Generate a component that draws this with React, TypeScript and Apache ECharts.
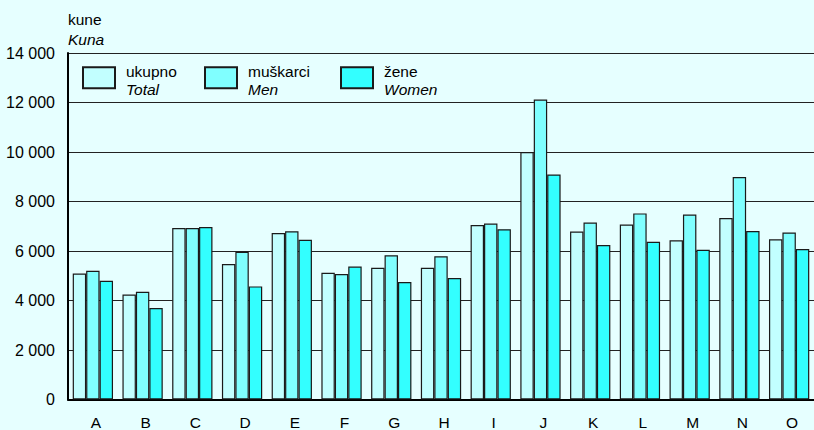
import React, { useEffect, useRef } from "react";
import * as echarts from "echarts";

const categories = ["A", "B", "C", "D", "E", "F", "G", "H", "I", "J", "K", "L", "M", "N", "O"];
const totalValues = [5090, 4240, 6930, 5470, 6730, 5120, 5320, 5320, 7050, 10000, 6790, 7070, 6430, 7330, 6470];
const menValues = [5200, 4350, 6930, 5970, 6800, 5070, 5830, 5790, 7110, 12120, 7150, 7520, 7470, 8990, 6750];
const womenValues = [4800, 3700, 6970, 4570, 6450, 5370, 4750, 4910, 6880, 9090, 6240, 6370, 6050, 6810, 6080];
const seriesNames = ["ukupno", "muškarci", "žene"];
const seriesNamesEn = ["Total", "Men", "Women"];
const yTicks = { min: 0, max: 14000, interval: 2000 };

const FONT = "'Liberation Sans', Arial, sans-serif";
const FS = 15.5;
const colors = ["#C2FFFF", "#80FFFF", "#33FFFF"];

function fmt(v: number): string {
  if (v >= 1000) {
    return `${Math.floor(v / 1000)} ${String(v % 1000).padStart(3, "0")}`;
  }
  return String(v);
}

export default function App() {
  const ref = useRef<HTMLDivElement>(null);
  useEffect(() => {
    document.body.style.margin = "0";
    const chart = echarts.init(ref.current!, null, { renderer: "svg" });
    const legendLefts = [82, 204, 340];
    const seriesData = [totalValues, menValues, womenValues];
    chart.setOption({
      animation: false,
      backgroundColor: "#E6FFFF",
      textStyle: { fontFamily: FONT },
      title: {
        left: 68,
        top: 9,
        padding: 0,
        text: "{a|kune}\n{b|Kuna}",
        textStyle: {
          fontWeight: "normal",
          rich: {
            a: { fontFamily: FONT, fontSize: FS, fontWeight: "normal", color: "#000", lineHeight: 20 },
            b: { fontFamily: FONT, fontSize: FS, fontWeight: "normal", color: "#000", fontStyle: "italic", lineHeight: 20 },
          },
        },
      },
      legend: seriesNames.map((n, i) => ({
        data: [n],
        left: legendLefts[i],
        top: 63.5,
        padding: 0,
        icon: "rect",
        itemWidth: 32,
        itemHeight: 21,
        selectedMode: false,
        formatter: (name: string) => `{a|${name}}\n{b|${seriesNamesEn[seriesNames.indexOf(name)]}}`,
        textStyle: {
          padding: [6, 0, 0, 6],
          rich: {
            a: { fontFamily: FONT, fontSize: FS, color: "#000", lineHeight: 18.4 },
            b: { fontFamily: FONT, fontSize: FS, color: "#000", fontStyle: "italic", lineHeight: 18.4 },
          },
        },
      })),
      grid: { left: 68, top: 53, width: 754, height: 350, containLabel: false },
      xAxis: {
        type: "category",
        data: categories,
        axisLine: { show: true, lineStyle: { color: "#000", width: 2 } },
        axisTick: { show: false },
        axisLabel: { color: "#000", fontSize: FS, fontFamily: FONT, margin: 14.5, padding: [0, 0, 0, 6] },
      },
      yAxis: {
        type: "value",
        min: yTicks.min,
        max: yTicks.max,
        interval: yTicks.interval,
        axisLine: { show: true, lineStyle: { color: "#000", width: 2 } },
        axisTick: { show: false },
        axisLabel: { color: "#000", fontSize: 16, fontFamily: FONT, margin: 13, formatter: fmt },
        splitLine: { show: true, lineStyle: { color: "#222", width: 1 } },
      },
      series: seriesNames.map((n, i) => ({
        name: n,
        type: "bar",
        data: seriesData[i],
        barGap: "0%",
        barCategoryGap: "19%",
        itemStyle: { color: colors[i], borderColor: "#1a1a1a", borderWidth: 1.2 },
      })),
    });
    return () => chart.dispose();
  }, []);
  return <div ref={ref} style={{ position: "absolute", left: 0, top: 0, width: 814, height: 430 }} />;
}
